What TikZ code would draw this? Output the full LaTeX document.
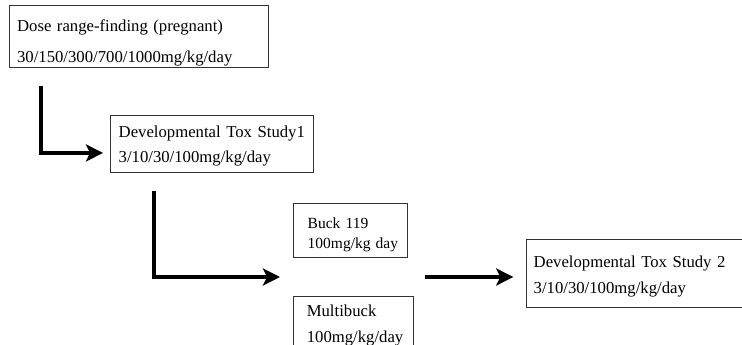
\documentclass[tikz,border=0pt]{standalone}
\usepackage{fontspec}
\setmainfont{Liberation Serif}
\usetikzlibrary{positioning,arrows.meta}

\begin{document}
\begin{tikzpicture}[
  x=1pt, y=-1pt,
  box/.style={draw=black!80, line width=0.8pt, anchor=north west, inner sep=0pt, align=left, font=\fontsize{16.7}{20}\selectfont},
  pad/.style={execute at begin node={\leftskip=#1}},
  flow/.style={line width=4pt, -{Stealth[length=17pt, width=17pt, inset=4pt]}},
]
\useasboundingbox (0,0) rectangle (742,345);
% ---- range-finding, then first study ----
\node[box, pad=7.7pt, text width=259pt, text height=25.7pt, text depth=36.3pt] (dose) at (9,5)
  {Dose range-finding (pregnant)\\[11pt] 30/150/300/700/1000mg/kg/day};
\node[box, pad=8.3pt, text width=203pt, text height=22.3pt, text depth=34.4pt] (dts1) at (110,115)
  {Developmental Tox Study1\\[4.4pt] 3/10/30/100mg/kg/day};
\draw[flow] ([xshift=31.5pt,yshift=-18pt]dose.south west) |- ([shift={(-7pt,-9.2pt)}]dts1.west);

% ---- the two bucks ----
\node[box, pad=14.6pt, text width=114.6pt, text height=25pt, text depth=28.4pt, font=\fontsize{15.5}{20}\selectfont] (buck) at (292.7,203.3)
  {Buck 119\\ 100mg/kg day};
\node[box, pad=13.7pt, text width=120.3pt, text height=20pt, text depth=40pt, below=38.3pt of buck.south west, anchor=north west] (multi)
  {Multibuck\\[5.8pt] 100mg/kg/day};
\coordinate (join) at (280,277);
\draw[flow] ([xshift=44.3pt,yshift=-18.3pt]dts1.south west) |- (join);

% ---- second study ----
\node[box, pad=7.3pt, text width=215.7pt, text height=27.4pt, text depth=40.6pt] (dts2) at (526,239.3)
  {Developmental Tox Study 2\\[6.6pt] 3/10/30/100mg/kg/day};
\coordinate (split) at (425,277);
\draw[flow, shorten >=12.7pt] (split) -- (split -| dts2.west);
\end{tikzpicture}
\end{document}
